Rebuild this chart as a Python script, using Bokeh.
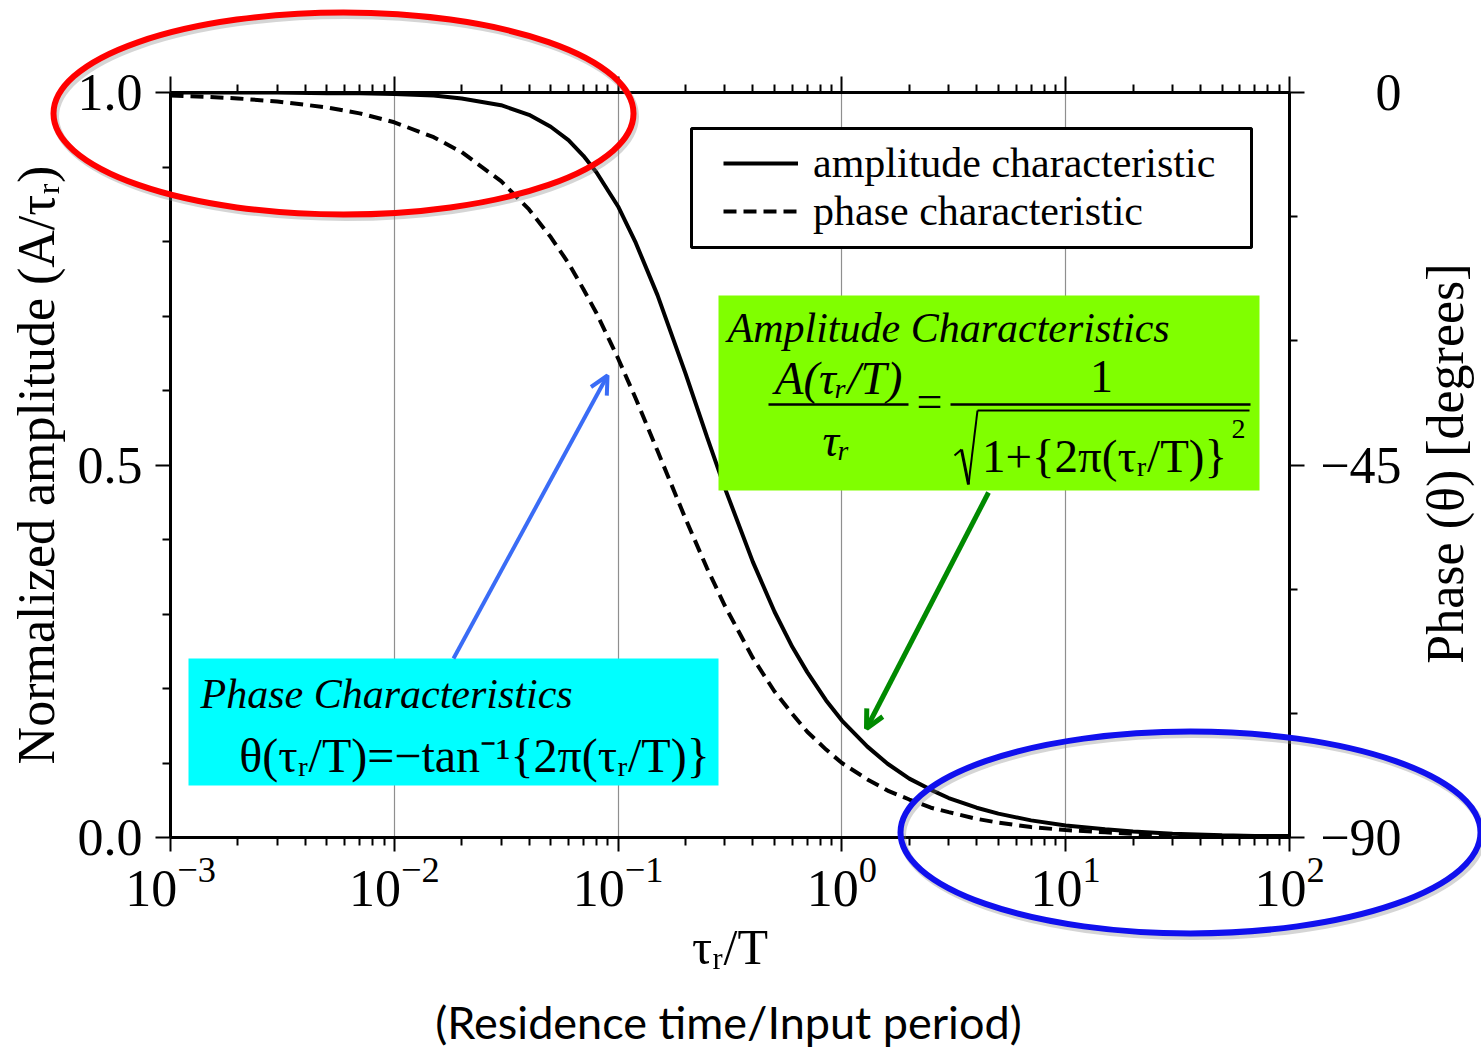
from bokeh.plotting import figure
from bokeh.models import (Range1d, LinearAxis, LogAxis, FixedTicker, Legend, LegendItem,
                          Label, Arrow, OpenHead, BoxAnnotation, CustomJSTickFormatter)
from bokeh.core.properties import value
from bokeh.embed import file_html
from bokeh.resources import INLINE

# ---------------- data ----------------
ratio = [0.001, 0.0015, 0.002, 0.003, 0.005, 0.007, 0.01, 0.015, 0.02, 0.03, 0.04, 0.05,
         0.06, 0.07, 0.08, 0.1, 0.12, 0.15, 0.2, 0.25, 0.3, 0.4, 0.5, 0.6, 0.7, 0.85, 1.0,
         1.3, 1.6, 2.0, 2.5, 3.0, 4.0, 5.0, 7.0, 10, 15, 20, 30, 50, 70, 100]
amplitude = [1.000, 1.000, 1.000, 1.000, 0.999, 0.999, 0.998, 0.996, 0.992, 0.983, 0.970, 0.954,
             0.936, 0.915, 0.893, 0.847, 0.798, 0.728, 0.623, 0.537, 0.469, 0.370, 0.303, 0.256,
             0.222, 0.184, 0.157, 0.122, 0.099, 0.079, 0.064, 0.053, 0.040, 0.032, 0.023, 0.016,
             0.011, 0.008, 0.005, 0.003, 0.002, 0.002]
phase_norm = [0.996, 0.994, 0.992, 0.988, 0.980, 0.972, 0.960, 0.940, 0.920, 0.881, 0.843, 0.806,
              0.771, 0.736, 0.704, 0.643, 0.589, 0.519, 0.428, 0.361, 0.311, 0.241, 0.196, 0.166,
              0.142, 0.118, 0.100, 0.078, 0.063, 0.051, 0.040, 0.034, 0.025, 0.020, 0.014, 0.010,
              0.007, 0.005, 0.003, 0.002, 0.001, 0.001]

x_ticks = [0.001, 0.01, 0.1, 1, 10, 100]
x_minor = [m * d for d in [0.001, 0.01, 0.1, 1, 10] for m in range(2, 10)]
amp_ticks = [0.0, 0.5, 1.0]
amp_labels = ["0.0", "0.5", "1.0"]
amp_minor = [0.1, 0.2, 0.3, 0.4, 0.6, 0.7, 0.8, 0.9]
phase_ticks = [-90, -45, 0]
phase_labels = ["\u221290", "\u221245", "0"]
phase_minor = [-75, -60, -30, -15]
legend_labels = ["amplitude characteristic", "phase characteristic"]

# ---------------- layout ----------------
W, H = 1481, 1047
FL, FR, FT, FB = 170, 1289, 92, 837
DEC = (FR - FL) / 5.0
SERIF = "Liberation Serif"


def X(px):
    return 10 ** (-3 + (px - FL) / DEC)


def Y(py):
    return (FB - py) / (FB - FT)


p = figure(width=W, height=H, x_axis_type="log", x_range=Range1d(1e-3, 1e2),
           y_range=Range1d(0, 1), output_backend="svg", toolbar_location=None,
           min_border_left=FL, min_border_right=W - FR, min_border_top=FT,
           min_border_bottom=H - FB, background_fill_color="white",
           border_fill_color="white")
p.extra_y_ranges = {"phase": Range1d(-90, 0)}
p.outline_line_color = None

xa = p.xaxis[0]
ya = p.yaxis[0]
xa.ticker = FixedTicker(ticks=x_ticks, minor_ticks=x_minor)
ya.ticker = FixedTicker(ticks=amp_ticks, minor_ticks=amp_minor)
ya.major_label_overrides = {t: s for t, s in zip([0, 0.5, 1], amp_labels)}

top = LogAxis(ticker=FixedTicker(ticks=x_ticks, minor_ticks=x_minor),
              formatter=CustomJSTickFormatter(code="return ''"))
right = LinearAxis(y_range_name="phase",
                   ticker=FixedTicker(ticks=phase_ticks, minor_ticks=phase_minor),
                   formatter=CustomJSTickFormatter(code="return ''"))
p.add_layout(top, "above")
p.add_layout(right, "right")

for ax in [xa, ya, top, right]:
    ax.axis_line_width = 3
    ax.axis_line_color = "black"
    ax.major_tick_line_width = 2
    ax.minor_tick_line_width = 2
    ax.major_tick_line_color = "black"
    ax.minor_tick_line_color = "black"
    ax.major_tick_in = 0
    ax.minor_tick_in = 0
    ax.minor_tick_out = 8
    ax.major_tick_out = 15
    ax.major_label_text_font = SERIF
    ax.major_label_text_font_size = "52px"
    ax.major_label_text_color = "black"
    ax.axis_label_text_font = SERIF
    ax.axis_label_text_font_style = "normal"
    ax.axis_label_text_color = "black"

top.major_label_text_font_size = "2px"
right.major_label_text_font_size = "2px"
top.major_tick_out = 16
xa.major_tick_out = 14
xa.major_label_standoff = 6
xa.axis_label = "\u03c4\u1d63/T"
xa.axis_label_text_font_size = "50px"
xa.axis_label_standoff = 10
ya.major_label_standoff = 13
ya.axis_label = "Normalized amplitude (A/\u03c4\u1d63)"
ya.axis_label_text_font_size = "52px"
ya.axis_label_standoff = 10

p.xgrid.ticker = FixedTicker(ticks=x_ticks)
p.xgrid.grid_line_color = "#8f8f8f"
p.xgrid.grid_line_width = 1.2
p.ygrid.visible = False

# ---------------- curves ----------------
r_amp = p.line(ratio, amplitude, line_color="black", line_width=4)
r_ph = p.line(ratio, phase_norm, line_color="black", line_width=4, line_dash="13 7")

# right-hand phase tick labels (right aligned like the original), phase title, caption
p.text(x=[X(1401)] * len(phase_ticks), y=phase_ticks, y_range_name="phase",
       text=phase_labels, text_font=value(SERIF), text_font_size="52px",
       text_align="right", text_baseline="middle", text_color="black", level="overlay")
p.text(x=[X(1445)], y=[Y(463)], text=["Phase (\u03b8) [degrees]"], angle=90,
       angle_units="deg", text_font=value(SERIF), text_font_size="52px",
       text_align="center", text_baseline="middle", text_color="black", level="overlay")
p.text(x=[X(728)], y=[Y(1021)], text=["(Residence time/Input period)"],
       text_font=value("Lato"), text_font_size="45px", text_align="center",
       text_baseline="middle", text_color="black", level="overlay")

# ---------------- legend ----------------
p.add_layout(BoxAnnotation(left=X(691), right=X(1251), top=Y(128), bottom=Y(247),
                           fill_color="white", fill_alpha=1, line_color="black",
                           line_alpha=1, line_width=3))
legend = Legend(items=[LegendItem(label=legend_labels[0], renderers=[r_amp]),
                       LegendItem(label=legend_labels[1], renderers=[r_ph])],
                location=(723 - FL, FB - 235), border_line_color=None,
                background_fill_alpha=0, padding=0, margin=0, spacing=0,
                glyph_width=75, glyph_height=30, label_standoff=15,
                label_text_font=SERIF, label_text_font_size="42px", label_text_color="black")
p.add_layout(legend, "center")

# ---------------- annotation boxes ----------------
GREEN = "#80ff00"
CYAN = "#00ffff"
p.add_layout(BoxAnnotation(left=X(718), right=X(1259), top=Y(295), bottom=Y(490),
                           fill_color=GREEN, fill_alpha=1, line_color=None))
p.add_layout(BoxAnnotation(left=X(188), right=X(718), top=Y(658), bottom=Y(785),
                           fill_color=CYAN, fill_alpha=1, line_color=None))


def lab(px, py, text, size, style="normal", align="left", baseline="middle"):
    p.add_layout(Label(x=X(px), y=Y(py), text=text, text_font=SERIF,
                       text_font_size=f"{size}px", text_font_style=style,
                       text_align=align, text_baseline=baseline, text_color="black"))


def seg(px0, py0, px1, py1, w=2.5):
    p.add_layout(Arrow(x_start=X(px0), y_start=Y(py0), x_end=X(px1), y_end=Y(py1),
                       end=None, line_color="black", line_width=w))


lab(727, 327, "Amplitude Characteristics", 42, "italic", baseline="alphabetic")
lab(838, 377, "A(\u03c4\u1d63/T)", 47, "italic", align="center")
seg(768, 404, 908, 404)
lab(836, 440, "\u03c4\u1d63", 46, "italic", align="center")
lab(929, 401, "=", 46, align="center")
lab(1101, 376, "1", 46, align="center")
seg(950, 404, 1250, 404)
# radical sign
seg(954, 455, 961, 449, 2)
seg(961, 449, 968, 484, 3)
seg(968, 484, 977, 410, 2)
seg(977, 410, 1249, 410, 2)
lab(1104, 455, "1+{2\u03c0(\u03c4\u1d63/T)}", 47, align="center")
lab(1238, 428, "2", 28, align="center")

lab(200, 693, "Phase Characteristics", 42, "italic", baseline="alphabetic")
lab(474, 755, "\u03b8(\u03c4\u1d63/T)=\u2212tan\u207b\u00b9{2\u03c0(\u03c4\u1d63/T)}", 48,
    align="center")

# ---------------- arrows ----------------
BLUE_ARROW = "#3a6cf6"
GREEN_ARROW = "#008a00"
p.add_layout(Arrow(x_start=X(453), y_start=Y(658), x_end=X(607), y_end=Y(375),
                   line_color=BLUE_ARROW, line_width=4,
                   end=OpenHead(size=18, line_color=BLUE_ARROW, line_width=4)))
p.add_layout(Arrow(x_start=X(988), y_start=Y(492), x_end=X(866), y_end=Y(728),
                   line_color=GREEN_ARROW, line_width=5,
                   end=OpenHead(size=18, line_color=GREEN_ARROW, line_width=5)))

# ---------------- highlight ellipses ----------------
for cx, cy, col in [(343, 113, "#ff0000"), (1190, 832, "#1010ee")]:
    p.ellipse(x=[X(cx + 2)], y=[Y(cy + 3)], width=580, height=202, width_units="screen",
              height_units="screen", fill_color=None, line_color="#888888", line_alpha=0.35,
              line_width=7, level="overlay")
    p.ellipse(x=[X(cx)], y=[Y(cy)], width=580, height=202, width_units="screen",
              height_units="screen", fill_color=None, line_color=col, line_width=6,
              level="overlay")

open("out.html", "w").write(file_html(p, INLINE))
